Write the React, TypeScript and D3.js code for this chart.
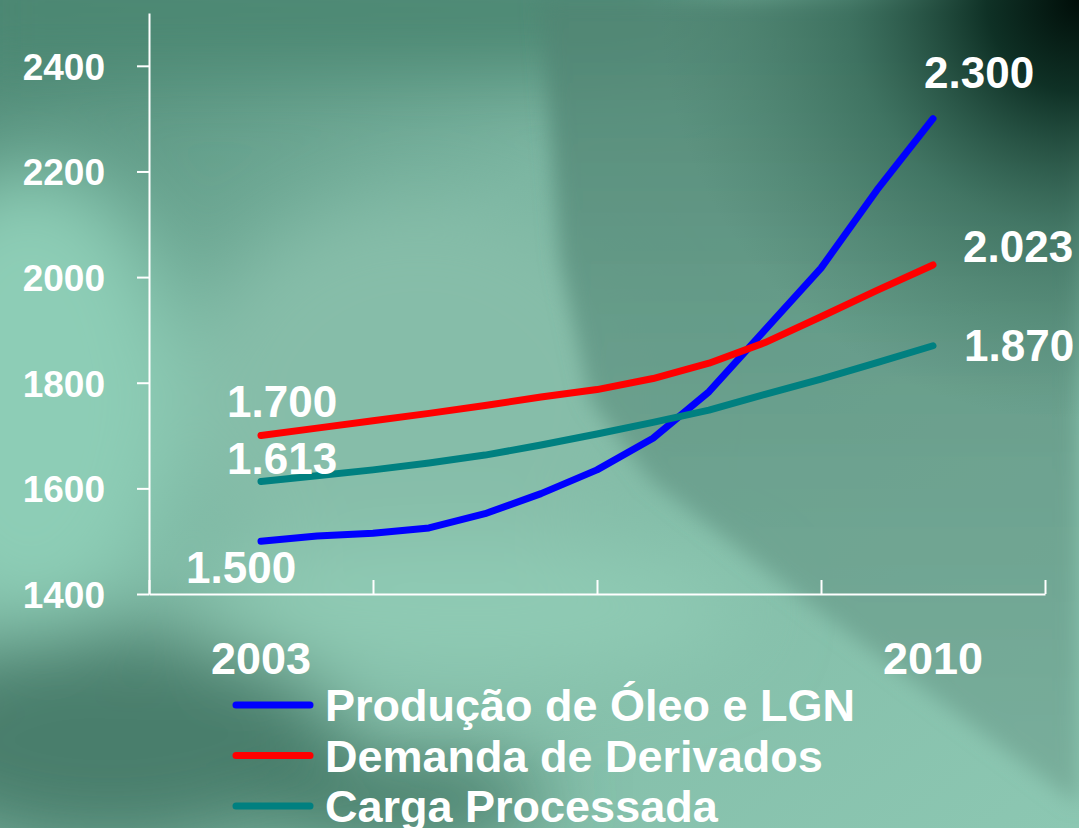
import React, { useEffect, useRef } from 'react';
import * as d3 from 'd3';

const W = 1079;
const H = 828;

// periods along the x axis (data points), axis ticks and year labels
const PERIODS = [0, 1, 2, 3, 4, 5, 6, 7, 8, 9, 10, 11, 12];
const X_TICKS = [-2, 2, 6, 10, 14];
const YEAR_PERIODS = [0, 12];
const YEAR_LABELS = ['2003', '2010'];
const Y_TICKS = [1400, 1600, 1800, 2000, 2200, 2400];

// series values
const PRODUCAO = [1500, 1510, 1515, 1525, 1552, 1590, 1635, 1695, 1783, 1900, 2017, 2165, 2300];
const DEMANDA = [1700, 1714, 1728, 1742, 1757, 1773, 1787, 1808, 1837, 1876, 1925, 1975, 2023];
const CARGA = [1613, 1624, 1635, 1648, 1663, 1682, 1703, 1725, 1748, 1778, 1807, 1838, 1870];
const SERIES_NAMES = ['Produção de Óleo e LGN', 'Demanda de Derivados', 'Carga Processada'];

const COLORS = ['#0000ff', '#ff0000', '#008080'];
// label offsets (px) from first/last points: [dx, dy]
const START_OFFSETS = [[-75, 42], [-34, -19], [-34, -7]];
const END_OFFSETS = [[-9, -31], [30, -3], [31, 15]];

const ptFormat = d3.formatLocale({ decimal: ',', thousands: '.', grouping: [3], currency: ['R$', ''] }).format(',d');

const FONT = '"Liberation Sans", Arial, Helvetica, sans-serif';

export default function App() {
  const yAxisRef = useRef<SVGGElement>(null);
  const xAxisRef = useRef<SVGGElement>(null);

  const x = d3.scaleLinear().domain([-2, 14]).range([149, 1045]);
  const y = d3.scaleLinear().domain([1400, 2500]).range([594, 13]);

  const seriesList = [PRODUCAO, DEMANDA, CARGA];
  const line = d3
    .line<number>()
    .x((_, i) => x(PERIODS[i]))
    .y((d) => y(d))
    .curve(d3.curveLinear);

  useEffect(() => {
    if (yAxisRef.current) {
      const g = d3.select(yAxisRef.current);
      g.selectAll('*').remove();
      g.call(
        d3
          .axisLeft(y)
          .tickValues(Y_TICKS)
          .tickSize(12)
          .tickSizeOuter(0)
          .tickPadding(32)
          .tickFormat(d3.format('d') as any)
      );
      g.selectAll('path.domain').attr('stroke', '#fff').attr('stroke-width', 2);
      g.selectAll('.tick line').attr('stroke', '#fff').attr('stroke-width', 2);
      g.selectAll('.tick text')
        .attr('fill', '#fff')
        .attr('font-family', FONT)
        .attr('font-weight', 'bold')
        .attr('font-size', 37)
        .attr('dy', '0.36em');
    }
    if (xAxisRef.current) {
      const g = d3.select(xAxisRef.current);
      g.selectAll('*').remove();
      g.call(d3.axisTop(x).tickValues(X_TICKS).tickSize(14).tickSizeOuter(0).tickFormat(() => ''));
      g.selectAll('path.domain').attr('stroke', '#fff').attr('stroke-width', 2);
      g.selectAll('.tick line').attr('stroke', '#fff').attr('stroke-width', 2);
    }
  });

  return (
    <svg
      width={W}
      height={H}
      viewBox={`0 0 ${W} ${H}`}
      style={{ position: 'absolute', left: 0, top: 0, display: 'block' }}
    >
      <defs>
        <linearGradient id="bgBase" x1="0" y1="0" x2="1" y2="1">
          <stop offset="0" stopColor="#4f8a76" />
          <stop offset="0.35" stopColor="#7bb5a1" />
          <stop offset="0.65" stopColor="#84bea9" />
          <stop offset="1" stopColor="#8cc7b2" />
        </linearGradient>
        <linearGradient id="darkSide" gradientUnits="userSpaceOnUse" x1="0" y1="0" x2="0" y2="800">
          <stop offset="0" stopColor="#4f8573" stopOpacity="0.9" />
          <stop offset="0.4" stopColor="#5f9482" stopOpacity="0.8" />
          <stop offset="1" stopColor="#74a795" stopOpacity="0.75" />
        </linearGradient>
        <radialGradient id="corner" cx="0.5" cy="0.5" r="0.5">
          <stop offset="0" stopColor="#000d08" stopOpacity="1" />
          <stop offset="0.22" stopColor="#0b2c21" stopOpacity="0.95" />
          <stop offset="0.55" stopColor="#2a5c4b" stopOpacity="0.55" />
          <stop offset="1" stopColor="#3f735f" stopOpacity="0" />
        </radialGradient>
        <filter id="blur40" x="-50%" y="-50%" width="200%" height="200%">
          <feGaussianBlur stdDeviation="40" />
        </filter>
        <filter id="blur15" x="-20%" y="-20%" width="140%" height="140%">
          <feGaussianBlur stdDeviation="10" />
        </filter>
      </defs>

      {/* background */}
      <rect x={0} y={0} width={W} height={H} fill="url(#bgBase)" />
      <g filter="url(#blur40)">
        <rect x={-50} y={-50} width={750} height={120} fill="#4c8772" />
        <ellipse cx={30} cy={400} rx={150} ry={230} fill="#8dcdb6" />
        <ellipse cx={420} cy={400} rx={230} ry={200} fill="#86bda9" />
        <ellipse cx={470} cy={610} rx={280} ry={70} fill="#8fcab4" />
        <ellipse cx={110} cy={740} rx={230} ry={110} fill="#4a7e6c" />
        <ellipse cx={400} cy={800} rx={150} ry={40} fill="#3f7462" />
      </g>
      <polygon
        points="540,0 1079,0 1079,805 820,612 650,480 590,400 560,260"
        fill="url(#darkSide)"
        filter="url(#blur15)"
      />
      <circle cx={1079} cy={0} r={420} fill="url(#corner)" />

      {/* axes */}
      <g ref={yAxisRef} transform={`translate(${x(-2)},0)`} />
      <g ref={xAxisRef} transform={`translate(0,${y(1400)})`} />

      {/* year labels */}
      {YEAR_PERIODS.map((p, i) => (
        <text
          key={YEAR_LABELS[i]}
          x={x(p)}
          y={674}
          textAnchor="middle"
          fill="#fff"
          fontFamily={FONT}
          fontWeight="bold"
          fontSize={45}
        >
          {YEAR_LABELS[i]}
        </text>
      ))}

      {/* lines */}
      {seriesList.map((s, i) => (
        <path
          key={SERIES_NAMES[i]}
          d={line(s) || ''}
          fill="none"
          stroke={COLORS[i]}
          strokeWidth={7}
          strokeLinecap="round"
          strokeLinejoin="round"
        />
      ))}

      {/* value labels */}
      {seriesList.map((s, i) => (
        <g key={'lab' + i} fill="#fff" fontFamily={FONT} fontWeight="bold" fontSize={44}>
          <text x={x(PERIODS[0]) + START_OFFSETS[i][0]} y={y(s[0]) + START_OFFSETS[i][1]}>
            {ptFormat(s[0])}
          </text>
          <text
            x={x(PERIODS[PERIODS.length - 1]) + END_OFFSETS[i][0]}
            y={y(s[s.length - 1]) + END_OFFSETS[i][1]}
          >
            {ptFormat(s[s.length - 1])}
          </text>
        </g>
      ))}

      {/* legend */}
      {SERIES_NAMES.map((name, i) => (
        <g key={'leg' + i} transform={`translate(0,${705 + i * 50.5})`}>
          <line x1={236} x2={310} y1={0} y2={0} stroke={COLORS[i]} strokeWidth={7} strokeLinecap="round" />
          <text x={325} y={16} fill="#fff" fontFamily={FONT} fontWeight="bold" fontSize={45}>
            {name}
          </text>
        </g>
      ))}
    </svg>
  );
}
